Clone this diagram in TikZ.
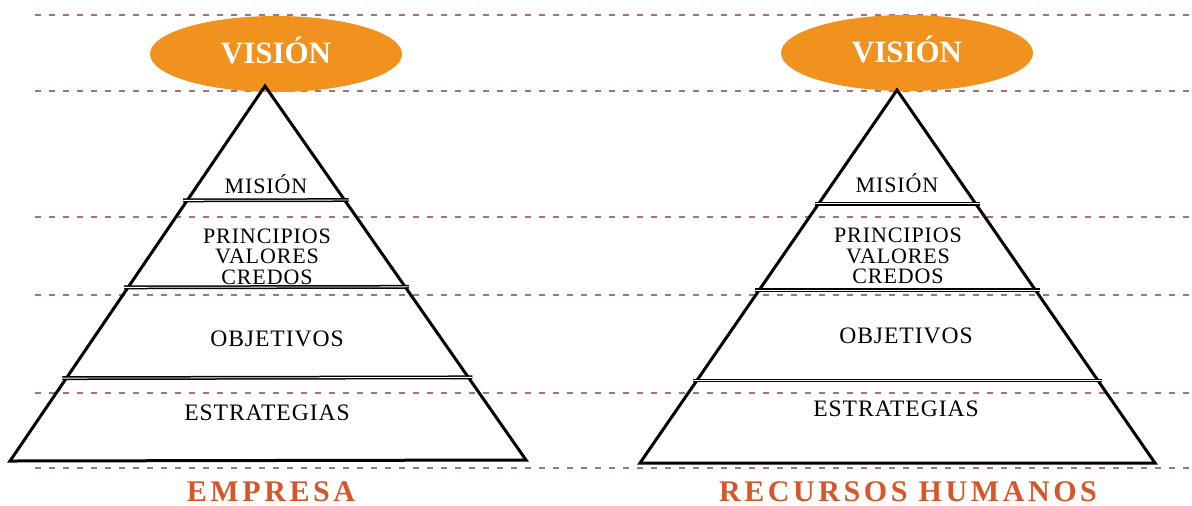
\documentclass[tikz,border=0pt]{standalone}
\usepackage{fontspec}
\setmainfont{Liberation Serif}
\newfontfamily\tierfont[LetterSpace=4]{Liberation Serif}
\newfontfamily\titlefont[LetterSpace=12]{Liberation Serif}
\usetikzlibrary{shapes.geometric,calc}
\definecolor{visionorange}{RGB}{242,146,30}
\definecolor{titlered}{RGB}{214,86,42}
\definecolor{guidegray}{RGB}{178,110,120}
\begin{document}
\begin{tikzpicture}[x=0.5pt, y=-0.5pt,
	guideline/.style={ guidegray, line width=0.6pt, dash pattern=on 3pt off 4pt },
	pyr/.style={ line width=1.5pt, line join=miter },
	layer/.style={ line width=0.75pt, double, double distance=0.4pt, shorten <=-2pt, shorten >=-2pt },
	vision/.style={ ellipse, fill=visionorange, minimum width=126pt, minimum height=38pt, inner sep=0pt },
	visiontext/.style={ anchor=base, text=white, inner sep=0pt, font=\bfseries\fontsize{15.5}{18}\selectfont },
	tier/.style={ anchor=base, inner sep=0pt, font=\tierfont\fontsize{11}{13}\selectfont },
	tierbig/.style={ anchor=base, inner sep=0pt, font=\tierfont\fontsize{11.8}{14}\selectfont },
	title/.style={ anchor=base, inner sep=0pt, text=titlered, font=\titlefont\bfseries\fontsize{15}{18}\selectfont }
]
\useasboundingbox (0,0) rectangle (1192,505);

% guide lines
\foreach \y in {15,91,217,295,393,468} \draw[guideline] (35,\y) -- (1190,\y);

% vision ellipses
\node[vision] at (276,54) (eVision) {};
\node[vision] at (907,53) (rVision) {};
\node[visiontext] at (276,63) (eVisionText) {VISIÓN};
\node[visiontext] at (907,62) (rVisionText) {VISIÓN};

% pyramids
\coordinate (eTop) at (265,86);
\coordinate (eLeft) at (10,461);
\coordinate (eRight) at (526,460);
\coordinate (rTop) at (897,90);
\coordinate (rLeft) at (640,463);
\coordinate (rRight) at (1155,463);

\draw[pyr] (eLeft) -- (eTop) -- (eRight) -- cycle;
\draw[pyr] (rLeft) -- (rTop) -- (rRight) -- cycle;

\foreach \t in {0.305,0.537,0.779} {
	\draw[layer] ($(eTop)!\t!(eLeft)$) -- ($(eTop)!\t!(eRight)$);
	\draw[layer] ($(rTop)!\t!(rLeft)$) -- ($(rTop)!\t!(rRight)$);
}

% tiers
\node[tier] at (266,193) (eMision) {MISIÓN};
\node[tier] at (267,243) (ePrincipios) {PRINCIPIOS};
\node[tier] at (267,263) (eValores) {VALORES};
\node[tier] at (267,284) (eCredos) {CREDOS};
\node[tierbig] at (277,346) (eObjetivos) {OBJETIVOS};
\node[tierbig] at (267,420) (eEstrategias) {ESTRATEGIAS};

\node[tier] at (897,192) (rMision) {MISIÓN};
\node[tier] at (898,242) (rPrincipios) {PRINCIPIOS};
\node[tier] at (898,263) (rValores) {VALORES};
\node[tier] at (898,283) (rCredos) {CREDOS};
\node[tierbig] at (906,343) (rObjetivos) {OBJETIVOS};
\node[tierbig] at (896,416) (rEstrategias) {ESTRATEGIAS};

% titles
\node[title] at (271,501) (eTitle) {EMPRESA};
\node[title] at (908,501) (rTitle) {RECURSOS HUMANOS};

\end{tikzpicture}
\end{document}
